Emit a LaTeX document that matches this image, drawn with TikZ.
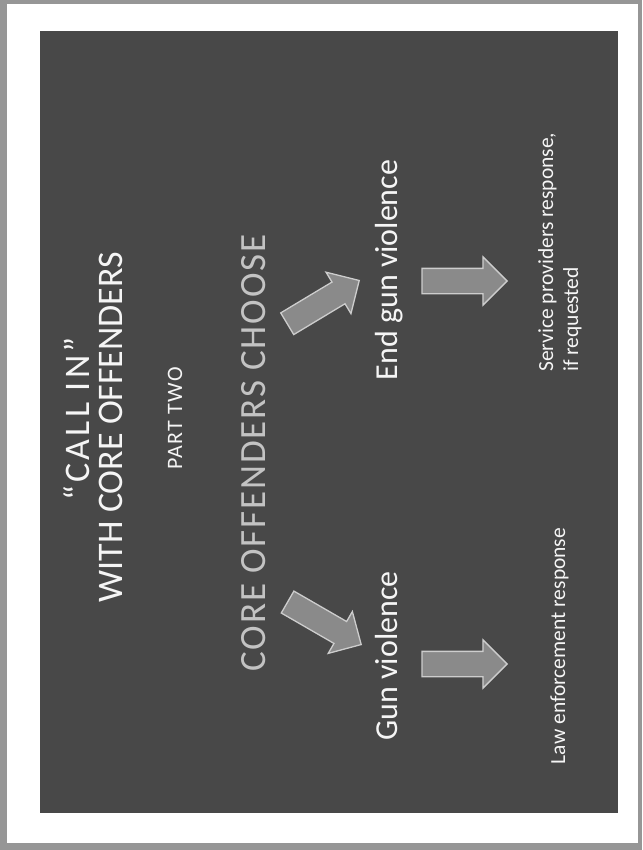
\documentclass[tikz,border=0pt]{standalone}
\usepackage{fontspec}
\setmainfont{Carlito}
\usetikzlibrary{shapes.arrows}
\definecolor{scanedge}{RGB}{150,150,150}
\definecolor{slidebg}{RGB}{72,72,72}
\definecolor{arrowfill}{RGB}{138,138,138}
\definecolor{arrowedge}{RGB}{205,205,205}
\definecolor{subtle}{RGB}{195,195,195}
\definecolor{txt}{RGB}{245,245,245}
\tikzset{
  rtext/.style={rotate=90, inner sep=0pt, text=txt},
  titletext/.style={rtext, font=\fontsize{36}{29}\selectfont},
  calltext/.style={rtext, font=\fontsize{36}{29}\selectfont\addfontfeature{LetterSpace=9}},
  parttext/.style={rtext, font=\fontsize{22}{25}\selectfont\addfontfeature{LetterSpace=6}},
  choosetext/.style={rtext, text=subtle, font=\fontsize{37}{40}\selectfont\addfontfeature{LetterSpace=5}},
  outcome/.style={rtext, font=\fontsize{32}{38}\selectfont},
  response/.style={rtext, font=\fontsize{21.5}{25}\selectfont},
  blockarrow/.style={single arrow, fill=arrowfill, draw=arrowedge, line width=1.3pt,
    inner sep=12pt, single arrow head extend=11.5pt, minimum height=#1, anchor=tip},
}
\begin{document}
\begin{tikzpicture}[x=1pt,y=-1pt]
\useasboundingbox (0,0) rectangle (642,850);
\fill[scanedge] (0,0) rectangle (642,850);
\fill[white] (7,4) rectangle (638,843);
\fill[slidebg] (40,31) rectangle (618,813);
% title
\node[calltext, anchor=base] (t1) at (89,419) {“CALL IN”};
\node[titletext, anchor=base] (t2) at (122,427) {WITH CORE OFFENDERS};
\node[parttext, anchor=base] (pt) at (182,418) {PART TWO};
\node[choosetext, anchor=base] (ch) at (265,453) {CORE OFFENDERS CHOOSE};
% outcomes
\node[outcome, anchor=base] (end) at (397,270) {End gun violence};
\node[outcome, anchor=base] (gun) at (397,656) {Gun violence};
% responses
\node[response, anchor=base west] (s1) at (553,372) {Service providers response,};
\node[response, anchor=base west] (s2) at (578,372) {if requested};
\node[response, anchor=base] (law) at (565,646) {Law enforcement response};
% arrows
\node[blockarrow=84pt, rotate=31] (a1) at (360,280) {};
\node[blockarrow=85pt, rotate=-30] (a2) at (362,645) {};
\node[blockarrow=85pt] (a3) at (508,281) {};
\node[blockarrow=85pt] (a4) at (508,664) {};
\end{tikzpicture}
\end{document}
